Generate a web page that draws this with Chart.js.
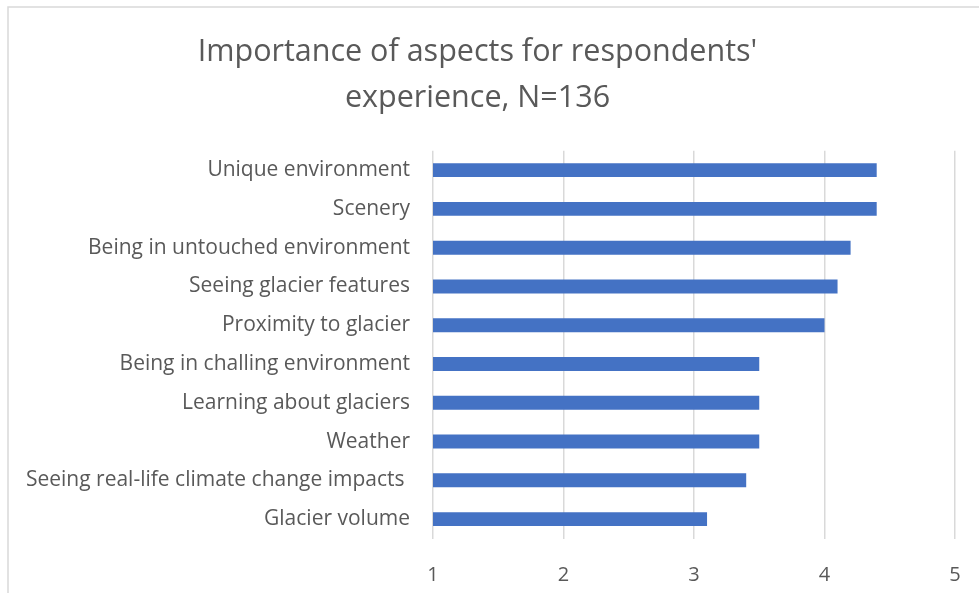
<!DOCTYPE html>
<html>
<head>
<meta charset="utf-8">
<script src="https://cdn.jsdelivr.net/npm/chart.js@4.4.0/dist/chart.umd.min.js"></script>
<style>
  html, body { margin: 0; padding: 0; background: #ffffff; }
  #wrap { position: absolute; left: 0; top: 0; width: 979px; height: 593px; }
</style>
</head>
<body>
<div id="wrap"><canvas id="c" width="979" height="593"></canvas></div>
<script>
const categories = [
  "Unique environment",
  "Scenery",
  "Being in untouched environment",
  "Seeing glacier features",
  "Proximity to glacier",
  "Being in challing environment",
  "Learning about glaciers",
  "Weather",
  "Seeing real-life climate change impacts ",
  "Glacier volume"
];
const importanceValues = [4.4, 4.4, 4.2, 4.1, 4.0, 3.5, 3.5, 3.5, 3.4, 3.1];
const xTickValues = [1, 2, 3, 4, 5];
const titleLines = ["Importance of aspects for respondents'", "experience, N=136"];

const FONT = "'Open Sans', Lato, sans-serif";
const TEXT = "#595959";

const framePlugin = {
  id: 'frame',
  beforeDraw(chart) {
    const ctx = chart.ctx;
    ctx.save();
    ctx.fillStyle = '#ffffff';
    ctx.fillRect(0, 0, chart.width, chart.height);
    ctx.strokeStyle = '#d9d9d9';
    ctx.lineWidth = 1.5;
    ctx.strokeRect(8, 7, chart.width + 20, chart.height + 20);
    ctx.restore();
  }
};

new Chart(document.getElementById('c'), {
  type: 'bar',
  data: {
    labels: categories,
    datasets: [{
      data: importanceValues,
      backgroundColor: '#4472C4',
      borderWidth: 0,
      barPercentage: 0.36,
      categoryPercentage: 1.0
    }]
  },
  options: {
    indexAxis: 'y',
    responsive: false,
    animation: false,
    devicePixelRatio: 1,
    layout: { padding: { left: 0, right: 24, top: 0, bottom: 0 } },
    plugins: {
      legend: { display: false },
      tooltip: { enabled: false },
      title: {
        display: true,
        text: titleLines,
        color: TEXT,
        font: { family: FONT, size: 30.5, weight: 'normal', lineHeight: 1.52 },
        padding: { top: 29, bottom: 29 }
      }
    },
    scales: {
      x: {
        min: 1,
        max: 5,
        afterBuildTicks(axis) { axis.ticks = xTickValues.map(v => ({ value: v })); },
        afterFit(axis) { axis.height = 54.5; axis.paddingRight = 0; axis.paddingLeft = 0; },
        grid: { color: '#d9d9d9', lineWidth: 1.5, drawTicks: false },
        border: { display: false },
        ticks: {
          color: TEXT,
          font: { family: FONT, size: 20 },
          padding: 25
        }
      },
      y: {
        afterFit(axis) { axis.width = 433; },
        grid: { display: false, drawTicks: false },
        border: { display: false },
        ticks: {
          color: TEXT,
          font: { family: FONT, size: 21 },
          padding: 23,
          autoSkip: false
        }
      }
    }
  },
  plugins: [framePlugin]
});
</script>
</body>
</html>
